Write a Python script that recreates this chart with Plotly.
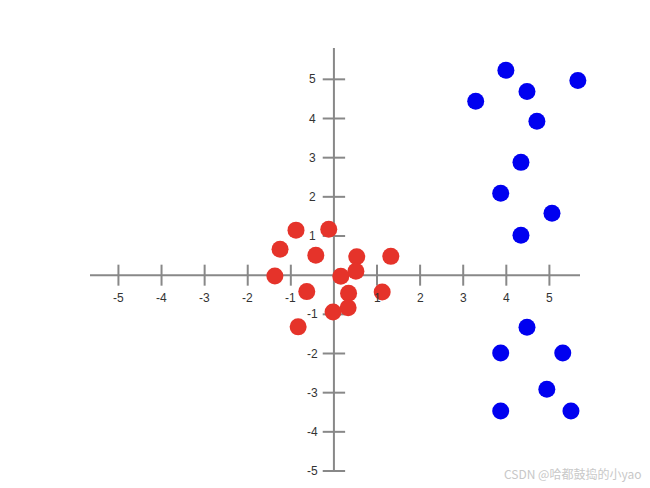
import plotly.graph_objects as go

# cluster near the origin
red_x = [-0.88, -0.12, -1.25, -0.42, 0.53, 1.32, -1.37, 0.16, 0.51, -0.63, 0.34, 1.12, 0.33, -0.02, -0.83]
red_y = [1.15, 1.17, 0.66, 0.51, 0.47, 0.48, -0.02, -0.03, 0.1, -0.42, -0.46, -0.43, -0.83, -0.94, -1.32]

# cluster on the right
blue_x = [3.99, 5.66, 3.29, 4.48, 4.71, 4.34, 3.87, 5.06, 4.34, 4.48, 3.87, 5.31, 4.94, 3.87, 5.50]
blue_y = [5.23, 4.97, 4.44, 4.69, 3.93, 2.88, 2.09, 1.58, 1.02, -1.33, -1.99, -1.99, -2.91, -3.47, -3.47]

x_ticks = [-5, -4, -3, -2, -1, 1, 2, 3, 4, 5]
y_ticks = [-5, -4, -3, -2, -1, 1, 2, 3, 4, 5]

x_range = [-5.66, 5.71]
y_range = [-5.0, 5.8]

AXIS = "#888888"
LABEL = "#333333"

fig = go.Figure()

# tick marks crossing the axes
fig.add_trace(go.Scatter(
    x=x_ticks, y=[0] * len(x_ticks), mode="markers", hoverinfo="skip",
    marker=dict(symbol="line-ns", size=15, line=dict(color=AXIS, width=2)),
    cliponaxis=False,
))
fig.add_trace(go.Scatter(
    x=[0] * len(y_ticks), y=y_ticks, mode="markers", hoverinfo="skip",
    marker=dict(symbol="line-ew", size=16, line=dict(color=AXIS, width=2)),
    cliponaxis=False,
))

fig.add_trace(go.Scatter(
    x=red_x, y=red_y, mode="markers",
    marker=dict(color="#e5332a", size=17),
    cliponaxis=False,
))
fig.add_trace(go.Scatter(
    x=blue_x, y=blue_y, mode="markers",
    marker=dict(color="#0000f0", size=17),
    cliponaxis=False,
))

# axis lines through the origin
fig.add_shape(type="line", xref="paper", yref="y", x0=0, x1=1, y0=0, y1=0,
              line=dict(color=AXIS, width=2), layer="below")
fig.add_shape(type="line", xref="x", yref="paper", x0=0, x1=0, y0=0, y1=1,
              line=dict(color=AXIS, width=2), layer="below")

# tick labels
for t in x_ticks:
    fig.add_annotation(x=t, y=0, text=str(t), showarrow=False, yshift=-23,
                       font=dict(size=12, color=LABEL))
for t in y_ticks:
    fig.add_annotation(x=0, y=t, text=str(t), showarrow=False, xshift=-21,
                       font=dict(size=12, color=LABEL))

# watermark
fig.add_annotation(
    xref="paper", yref="paper", x=1.128, y=-0.005, xanchor="right", yanchor="middle",
    text="CSDN @哈都鼓捣的小yao", showarrow=False,
    font=dict(size=12, color="#c8c8c8", family="Noto Sans CJK SC"),
)

# page body adds an 8px offset, so the figure is sized to fit the window
fig.update_layout(
    width=642, height=480,
    margin=dict(l=82, r=70, t=40, b=17),
    paper_bgcolor="white", plot_bgcolor="white",
    showlegend=False,
    font=dict(family="Liberation Sans, Arial, sans-serif"),
    xaxis=dict(range=x_range, visible=False, fixedrange=True),
    yaxis=dict(range=y_range, visible=False, fixedrange=True),
)

fig.write_html("out.html")
